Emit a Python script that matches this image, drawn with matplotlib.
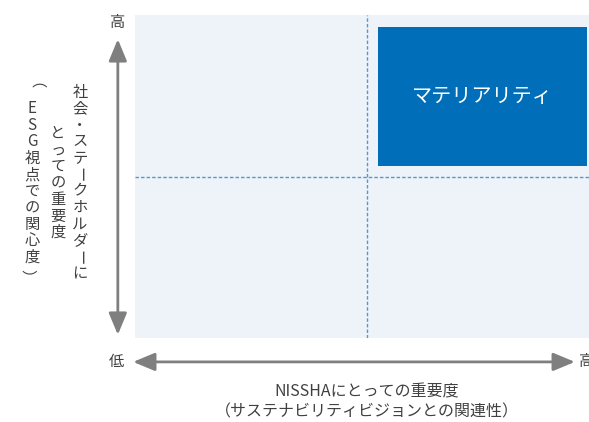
import matplotlib.pyplot as plt
from matplotlib.patches import Rectangle
from matplotlib.transforms import offset_copy

plt.rcParams['font.family'] = ['Noto Sans CJK JP', 'DejaVu Sans']

# axis levels and layout of the matrix (0 = low, 1 = high)
low_label = '低'
high_label = '高'
split = 0.5
box_label = 'マテリアリティ'
box_x = [0.524, 0.974]
box_y = [0.532, 0.963]
x_title = ['NISSHAにとっての重要度', '（サステナビリティビジョンとの関連性）']
y_title = ['社会・ステークホルダーに', 'とっての重要度', '（ESG視点での関心度）']

W, H = 589, 422
fig = plt.figure(figsize=(W / 100, H / 100), dpi=100)
# axes runs a bit past the right edge, as in the original crop
ax = fig.add_axes([135 / W, 84 / H, 464 / W, 323 / H])
ax.set_xlim(0, 1)
ax.set_ylim(0, 1)
ax.set_facecolor('#eef3fa')
for s in ax.spines.values():
    s.set_visible(False)
ax.set_xticks([])
ax.set_yticks([])

dash = dict(color='#5297d4', lw=1, ls=(0, (2.5, 1.5)))
ax.axvline(split, **dash)
ax.axhline(split, **dash)

ax.add_patch(Rectangle((box_x[0], box_y[0]), box_x[1] - box_x[0], box_y[1] - box_y[0],
                       facecolor='#006eb9', edgecolor='none'))
ax.text(sum(box_x) / 2, sum(box_y) / 2, box_label, color='white', fontsize=14.5,
        ha='center', va='center')

grey = '#7f7f7f'
txt = '#404040'
arrow = dict(arrowstyle='<|-|>,head_length=1.2,head_width=0.5', color=grey, lw=2,
             mutation_scale=11, shrinkA=0, shrinkB=0)

# vertical arrow
ax.annotate('', xy=(-0.037, 0.925), xytext=(-0.037, 0.01), xycoords='axes fraction',
            textcoords='axes fraction', arrowprops=arrow, annotation_clip=False)
# horizontal arrow
ax.annotate('', xy=(0.948, -0.074), xytext=(-0.004, -0.074), xycoords='axes fraction',
            textcoords='axes fraction', arrowprops=arrow, annotation_clip=False)

ax.text(-0.037, 0.978, high_label, transform=ax.transAxes, ha='center', va='center',
        fontsize=11, color=txt, clip_on=False)
ax.text(-0.039, -0.074, low_label, transform=ax.transAxes, ha='center', va='center',
        fontsize=11, color=txt, clip_on=False)
ax.text(0.974, -0.074, high_label, transform=ax.transAxes, ha='center', va='center',
        fontsize=11, color=txt, clip_on=False)

# x title
ax.text(0.5, -0.167, x_title[0], transform=ax.transAxes, ha='center', va='center',
        fontsize=11.5, color=txt, clip_on=False)
ax.text(0.5, -0.23, x_title[1], transform=ax.transAxes, ha='center', va='center',
        fontsize=11.5, color=txt, clip_on=False)

# y title, written vertically one character at a time
col_x = [-0.1185, -0.166, -0.222]
pitch = 16.5 / 323
mid = 0.48
# characters turned for vertical writing, with a small nudge (px) to sit centred
rotated = {'ー': (0, 0), '（': (-5, 3), '）': (-5, -3)}
for cx, line in zip(col_x, y_title):
    n = len(line)
    for i, ch in enumerate(line):
        cy = mid + (n - 1) / 2 * pitch - i * pitch
        if ch in rotated:
            dx, dy = rotated[ch]
            tr = offset_copy(ax.transAxes, fig=fig, x=dx, y=dy, units='dots')
            ax.text(cx, cy, ch, transform=tr, ha='center', va='center',
                    fontsize=11, color=txt, rotation=-90, clip_on=False)
        else:
            ax.text(cx, cy, ch, transform=ax.transAxes, ha='center', va='center',
                    fontsize=11, color=txt, clip_on=False)

fig.savefig('out.png', dpi=100)
